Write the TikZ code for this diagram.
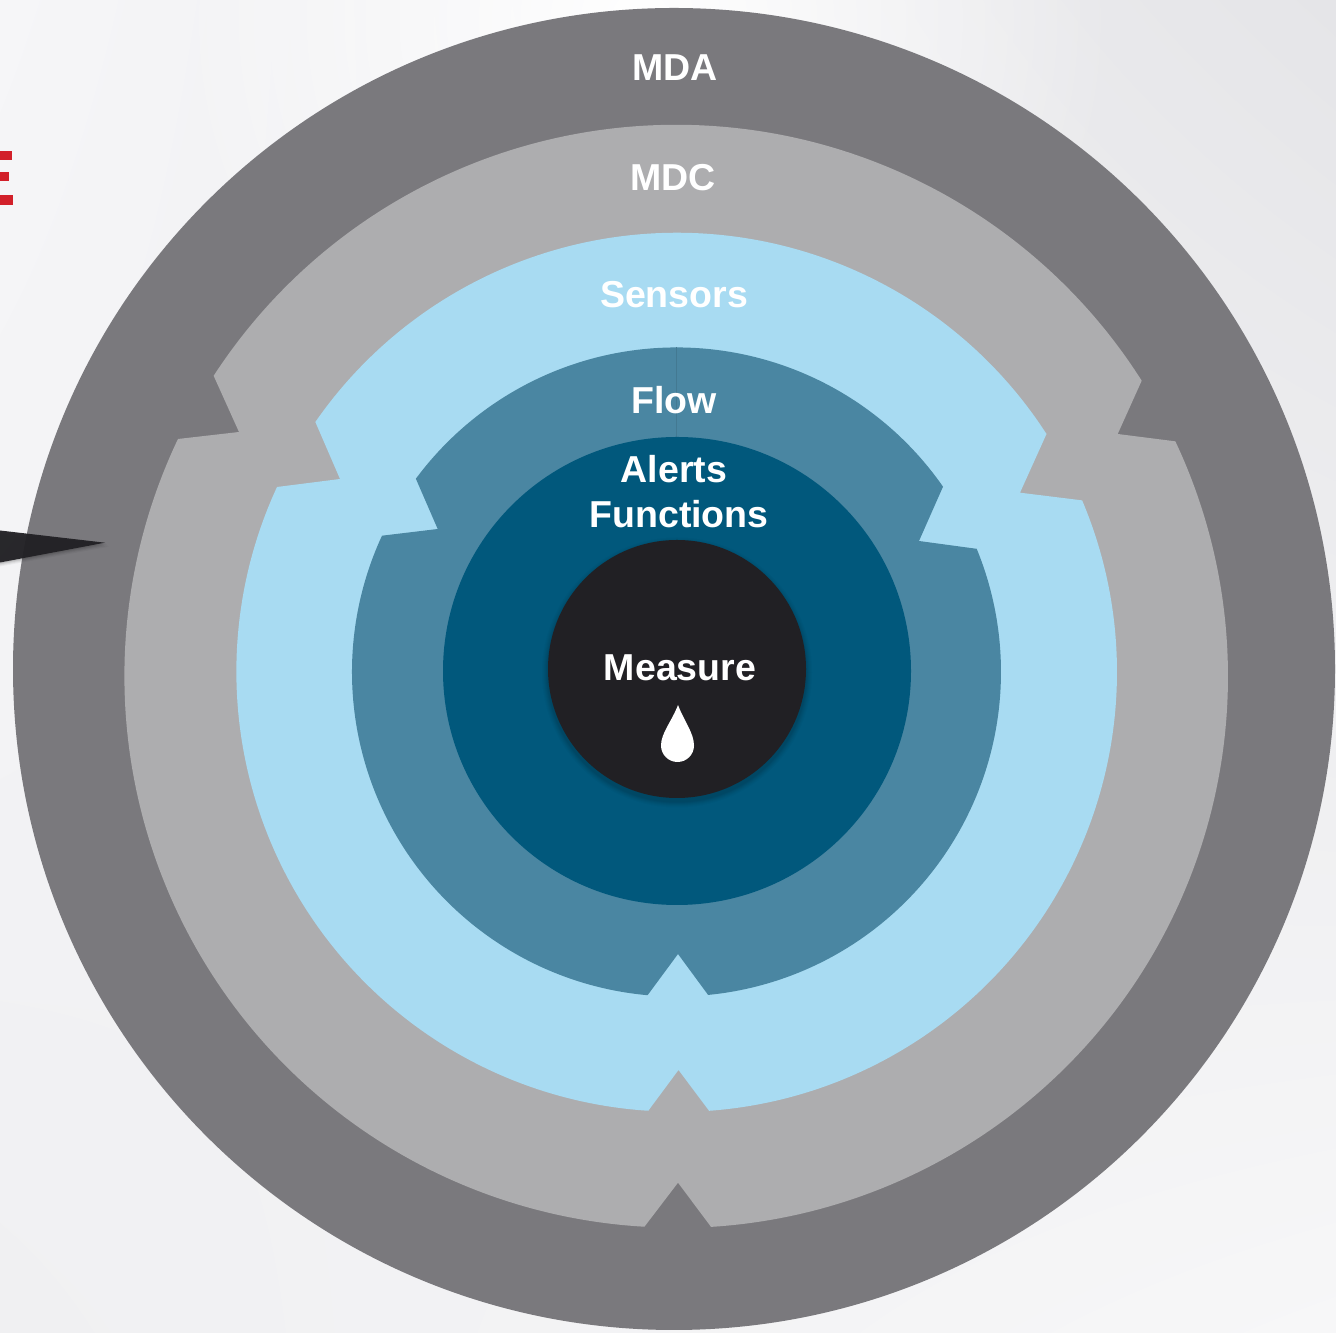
\documentclass[tikz,border=0pt]{standalone}
\usepackage{fontspec}
\usetikzlibrary{calc,shadings,fadings}
\setmainfont{Liberation Sans}
\tikzfading[name=blobfade,inner color=transparent!0,outer color=transparent!100]
\begin{document}
\begin{tikzpicture}[x=1pt,y=1pt,
  label/.style={text=white,font=\bfseries\fontsize{37.5}{40}\selectfont,inner sep=0pt,anchor=center}]
\useasboundingbox (0,0) rectangle (1336,1333);
\definecolor{ringa}{HTML}{7A797D}
\definecolor{ringb}{HTML}{ADADAF}
\definecolor{ringc}{HTML}{A8DBF2}
\definecolor{ringd}{HTML}{4A86A2}
\definecolor{ringe}{HTML}{01587C}
\definecolor{ringf}{HTML}{212024}
\definecolor{bgul}{HTML}{F6F6F8}
\definecolor{bgur}{HTML}{E5E5E8}
\definecolor{bgll}{HTML}{F0F0F2}
\definecolor{bglr}{HTML}{F7F7F8}
\definecolor{redbar}{HTML}{D2202A}
% background
\shade[upper left=bgul,upper right=bgur,lower left=bgll,lower right=bglr] (0,0) rectangle (1336,1333);
\fill[white,path fading=blobfade] (640,1313) circle[radius=480pt];
% red letter fragment
\fill[redbar] (0,1173) rectangle (12,1182.3);
\fill[redbar] (0,1152) rectangle (9,1161.3);
\fill[redbar] (0,1128.3) rectangle (13,1138);
% rings
\fill[ringa] (674,664) circle[radius=661pt];
% pointer
\foreach \d/\o in {1/.08,2/.07,3/.05,4/.04}{\fill[black,opacity=\o] (0,802.5-\d) -- (105+\d,790.3-\d) -- (0,770.5-\d) -- cycle;}
\fill[ringf,opacity=.95] (0,802.5) -- (105,790.3) -- (0,770.5) -- cycle;
\coordinate (cb) at (676.5,656.5);
\fill[ringb] ($(cb)+(-86.41:551.5)$) arc[start angle=-86.41,end angle=25.24,radius=551.5pt]
  -- (1117.7,899) -- (1141.7,952.3) arc[start angle=32.41,end angle=146.99,radius=551.5pt]
  -- (239,901) -- (178,894) arc[start angle=154.53,end angle=266.73,radius=551.5pt]
  -- (678,150.3) -- cycle;
\coordinate (cc) at (677,661);
\fill[ringc] ($(cc)+(-85.82:440)$) arc[start angle=-85.82,end angle=22.96,radius=440pt]
  -- (1020,840.3) -- (1046.5,899) arc[start angle=32.86,end angle=145.26,radius=440pt]
  -- (340,854) -- (277,846) arc[start angle=155.18,end angle=266.34,radius=440pt]
  -- (678.5,263) -- cycle;
\coordinate (cd) at (676.5,661);
\fill[ringd] ($(cd)+(-84.41:324.5)$) arc[start angle=-84.41,end angle=22.31,radius=324.5pt]
  -- (919,792) -- (943,846.3) arc[start angle=34.81,end angle=143.46,radius=324.5pt]
  -- (437.7,804) -- (382,797.3) arc[start angle=155.16,end angle=264.89,radius=324.5pt]
  -- (678,379) -- cycle;
\draw[ringd!90!black,line width=0.7pt] (676.5,986) -- (676.5,890);
\fill[ringe] (677,662) circle[radius=234pt];
% centre shadow
\foreach \r/\o in {135/.02,134/.02,133/.03,132/.03,131/.04,130/.04}{\fill[black,opacity=\o] (677,660.5) circle[radius=\r pt];}
\fill[ringf] (677,664) circle[radius=129pt];
% drop
\fill[white] (678,628) .. controls (672,612) and (661,600) .. (661,587.5)
  arc[start angle=180,end angle=360,radius=16.5pt]
  .. controls (694,600) and (684,612) .. (678,628) -- cycle;
% labels
\node[label] (mda) at (675,1265) {MDA};
\node[label] (mdc) at (673,1155) {MDC};
\node[label] (sensors) at (674,1038) {Sensors};
\node[label] (flow) at (674,933) {Flow};
\node[label] (alerts) at (674,864) {Alerts};
\node[label] (functions) at (679,819) {Functions};
\node[label] (measure) at (680,665) {Measure};
\end{tikzpicture}
\end{document}
